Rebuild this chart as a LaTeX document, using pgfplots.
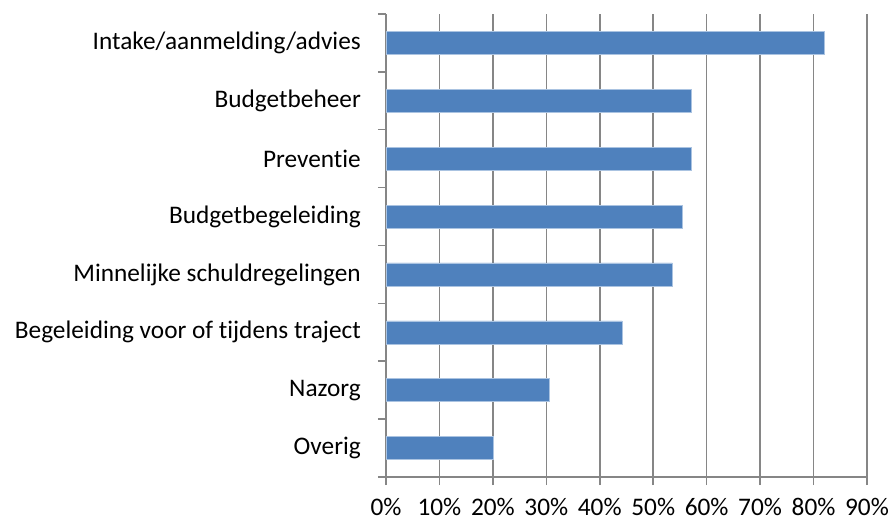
\documentclass[border=0pt]{standalone}
\usepackage{fontspec}
\setmainfont{Carlito}[Ligatures={NoCommon}]
\usepackage{pgfplots}
\pgfplotsset{compat=1.18}
\definecolor{barblue}{RGB}{79,129,189}
\definecolor{baredge}{RGB}{170,195,225}
\definecolor{gridgray}{RGB}{134,134,134}
\begin{document}
\begin{tikzpicture}
\begin{axis}[
  at={(386bp,44bp)}, anchor=south west,
  scale only axis, width=481bp, height=463bp,
  xmin=0, xmax=90, ymin=-0.5, ymax=7.5,
  axis lines*=left,
  axis line style={gridgray, line width=1.5bp},
  xtick={0,10,...,90},
  xticklabels={0\%,10\%,20\%,30\%,40\%,50\%,60\%,70\%,80\%,90\%},
  xmajorgrids, grid style={gridgray, line width=1.5bp},
  tick align=outside, major tick length=8bp,
  tick style={gridgray, line width=1.5bp},
  ytick={-0.5,0.5,...,7.5}, yticklabels={},
  extra y ticks={0,1,2,3,4,5,6,7},
  extra y tick labels={Overig,Nazorg,Begeleiding voor of tijdens traject,Minnelijke schuldregelingen,Budgetbegeleiding,Preventie,Budgetbeheer,Intake/aanmelding/advies},
  extra y tick style={major tick length=0pt, yticklabel style={inner sep=0pt, xshift=-25bp}},
  ticklabel style={font=\fontsize{25.3bp}{30bp}\selectfont, text=black},
  xticklabel style={yshift=-10bp},
]
\addplot[xbar, bar width=23bp, fill=barblue, draw=baredge, line width=0.6bp] coordinates {
  (20.1,0) (30.5,1) (44.2,2) (53.6,3) (55.5,4) (57.2,5) (57.2,6) (82.0,7)
};
\end{axis}
\pgfresetboundingbox
\useasboundingbox (0,0) rectangle (894bp,521bp);
\end{tikzpicture}
\end{document}
